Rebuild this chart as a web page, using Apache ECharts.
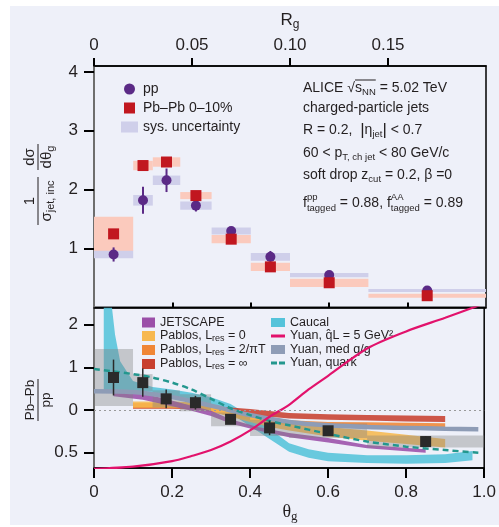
<!DOCTYPE html>
<html><head><meta charset="utf-8">
<script src="https://cdn.jsdelivr.net/npm/echarts@6/dist/echarts.min.js"></script>
<style>
html,body{margin:0;padding:0;background:#fff;}
#bg{position:absolute;left:10px;top:6px;width:489px;height:519px;background:#eef0f9;}
#chart{position:absolute;left:0;top:0;width:499px;height:527px;}
</style></head><body>
<div id="bg"></div><div id="chart"></div>
<script>
// ---------- data ----------
const binLo = [0, 0.1, 0.15, 0.22, 0.3, 0.4, 0.5, 0.7];
const binHi = [0.1, 0.15, 0.22, 0.3, 0.4, 0.5, 0.7, 1.0];
const binCenter = [0.05, 0.125, 0.185, 0.26, 0.35, 0.45, 0.6, 0.85];

const ppValues = [0.90, 1.82, 2.16, 1.73, 1.30, 0.86, 0.55, 0.29];
const ppStat = [0.12, 0.23, 0.20, 0.10, 0.05, 0.10, 0.03, 0.02];
const ppSys = [0.065, 0.09, 0.08, 0.07, 0.06, 0.065, 0.035, 0.025];
const pbpbValues = [1.25, 2.41, 2.47, 1.90, 1.16, 0.69, 0.42, 0.20];
const pbpbSys = [0.29, 0.08, 0.08, 0.06, 0.07, 0.07, 0.07, 0.035];

const ratioValues = [1.38, 1.32, 1.13, 1.085, 0.89, 0.79, 0.756, 0.63];
const ratioStat = [0.21, 0.165, 0.11, 0.08, 0.04, 0.085, 0.05, 0.065];
const ratioSys = [0.335, 0.10, 0.10, 0.10, 0.08, 0.095, 0.085, 0.07];

const caucalTheta = [0.025, 0.046, 0.054, 0.067, 0.1, 0.15, 0.2, 0.25, 0.3, 0.35, 0.4, 0.45, 0.5, 0.55, 0.6, 0.7, 0.8, 0.9, 0.97];
const caucalLow = [1.22, 1.22, 1.22, 1.21, 1.19, 1.17, 1.15, 1.11, 1.05, 0.96, 0.81, 0.66, 0.51, 0.44, 0.40, 0.38, 0.37, 0.38, 0.41];
const caucalHigh = [2.2, 2.2, 1.88, 1.57, 1.34, 1.27, 1.24, 1.2, 1.15, 1.07, 0.93, 0.78, 0.61, 0.54, 0.50, 0.47, 0.47, 0.48, 0.52];

const jetscapeTheta = [0.05, 0.125, 0.175, 0.25, 0.3, 0.35, 0.42, 0.5, 0.6, 0.7, 0.85];
const jetscapeLow = [1.16, 1.12, 1.07, 0.99, 0.93, 0.84, 0.76, 0.68, 0.62, 0.55, 0.50];
const jetscapeHigh = [1.24, 1.19, 1.14, 1.05, 0.99, 0.89, 0.80, 0.73, 0.67, 0.59, 0.54];

const pablos0Theta = [0.1, 0.2, 0.25, 0.3, 0.35, 0.4, 0.45, 0.5, 0.6, 0.7, 0.8, 0.9];
const pablos0Low = [1.03, 1.03, 1.02, 0.98, 0.92, 0.86, 0.80, 0.76, 0.69, 0.64, 0.60, 0.56];
const pablos0High = [1.10, 1.10, 1.09, 1.05, 0.99, 0.94, 0.90, 0.86, 0.80, 0.76, 0.71, 0.66];

const pablos2Theta = [0.1, 0.2, 0.25, 0.3, 0.35, 0.4, 0.45, 0.5, 0.6, 0.7, 0.8, 0.9];
const pablos2Low = [1.02, 1.02, 1.01, 0.98, 0.93, 0.88, 0.84, 0.82, 0.80, 0.795, 0.79, 0.79];
const pablos2High = [1.08, 1.08, 1.07, 1.05, 1.00, 0.95, 0.90, 0.88, 0.86, 0.855, 0.85, 0.845];

const pablosInfTheta = [0.1, 0.2, 0.3, 0.35, 0.4, 0.5, 0.6, 0.7, 0.8, 0.9];
const pablosInfLow = [1.015, 1.015, 1.0, 0.97, 0.94, 0.90, 0.885, 0.875, 0.865, 0.86];
const pablosInfHigh = [1.07, 1.07, 1.05, 1.03, 1.01, 0.965, 0.95, 0.94, 0.935, 0.93];

const medTheta = [0, 0.1, 0.2, 0.3, 0.4, 0.5, 0.6, 0.7, 0.8, 0.9, 0.985];
const medValues = [1.22, 1.21, 1.15, 1.05, 0.94, 0.86, 0.82, 0.80, 0.79, 0.78, 0.775];

const quarkTheta = [0, 0.1, 0.15, 0.2, 0.25, 0.3, 0.35, 0.4, 0.45, 0.5, 0.6, 0.7, 0.8, 0.9, 0.985];
const quarkValues = [1.48, 1.42, 1.38, 1.32, 1.24, 1.13, 1.02, 0.94, 0.87, 0.82, 0.72, 0.63, 0.57, 0.53, 0.50];

const qhatTheta = [0, 0.1, 0.2, 0.25, 0.3, 0.35, 0.4, 0.45, 0.5, 0.55, 0.6, 0.7, 0.8, 0.9, 0.99];
const qhatValues = [0.31, 0.335, 0.40, 0.46, 0.53, 0.63, 0.76, 0.92, 1.06, 1.24, 1.40, 1.72, 1.92, 2.08, 2.23];

const topYTicks = [1, 2, 3, 4];
const rgTickValues = [0, 0.05, 0.10, 0.15];
const rgTickLabels = ['0', '0.05', '0.10', '0.15'];
const thetaTickValues = [0, 0.2, 0.4, 0.6, 0.8, 1.0];
const thetaTickLabels = ['0', '0.2', '0.4', '0.6', '0.8', '1.0'];
const thetaInnerTicks = [0.2, 0.4, 0.6, 0.8];
const ratioTickValues = [0.5, 1, 1.5, 2];
const ratioTickLabels = ['0.5', '0', '1', '2'];

// ---------- helpers ----------
const FONT = '"Liberation Sans", Arial, sans-serif';
const SERIF = '"Liberation Serif", "DejaVu Serif", serif';
const INK = '#231f20';
const mctx = document.createElement('canvas').getContext('2d');
function tw(t, size, fam) { mctx.font = size + 'px ' + (fam || FONT); return mctx.measureText(t).width; }
function lookup(vals, labels, v) { for (let i = 0; i < vals.length; i++) if (Math.abs(vals[i] - v) < 1e-9) return labels[i]; return ''; }
function txt(x, y, t, size, fam) {
  return {type: 'text', x: x, y: y, silent: true, style: {text: t, fontSize: size, fontFamily: fam || FONT, fill: INK, align: 'left', verticalAlign: 'middle'}};
}
function partWidth(p) {
  if (p.sup !== undefined) return Math.max(tw(p.sup, p.size), tw(p.sub, p.size));
  return tw(p.t, p.size, p.fam);
}
function compose(parts, x0, y0, align) {
  const total = parts.reduce((s, p) => s + partWidth(p), 0);
  let cx = align === 'center' ? x0 - total / 2 : x0;
  const els = [];
  parts.forEach(p => {
    const w = partWidth(p);
    if (p.sup !== undefined) {
      els.push(txt(cx, y0 - 6, p.sup, p.size));
      els.push(txt(cx, y0 + 5, p.sub, p.size));
    } else {
      els.push(txt(cx, y0 + (p.dy || 0), p.t, p.size, p.fam));
      if (p.over) els.push({type: 'line', silent: true, shape: {x1: cx, y1: y0 - 8, x2: cx + w, y2: y0 - 8}, style: {stroke: INK, lineWidth: 1}});
    }
    cx += w;
  });
  return els;
}
const S = 14, SB = 9.5;
let graphics = [];
const ax = 303;
graphics = graphics.concat(compose([{t: 'ALICE ', size: S}, {t: '√', size: S}, {t: 's', size: S, over: true}, {t: 'NN', size: SB, dy: 4, over: true}, {t: ' = 5.02 TeV', size: S}], ax, 88));
graphics = graphics.concat(compose([{t: 'charged-particle jets', size: S}], ax, 108));
graphics = graphics.concat(compose([{t: 'R = 0.2,  ', size: S}, {t: '|', size: 17}, {t: 'η', size: S}, {t: 'jet', size: SB, dy: 4}, {t: '|', size: 17}, {t: ' < 0.7', size: S}], ax, 130));
graphics = graphics.concat(compose([{t: '60 < p', size: S}, {t: 'T, ch jet', size: SB, dy: 4}, {t: ' < 80 GeV/c', size: S}], ax, 153));
graphics = graphics.concat(compose([{t: 'soft drop z', size: S}, {t: 'cut', size: SB, dy: 4}, {t: ' = 0.2, β =0', size: S}], ax, 175));
graphics = graphics.concat(compose([{t: 'f', size: S}, {sup: 'pp', sub: 'tagged', size: SB}, {t: ' = 0.88, f', size: S}, {sup: 'AA', sub: 'tagged', size: SB}, {t: ' = 0.89', size: S}], ax, 203));
// axis titles
graphics = graphics.concat(compose([{t: 'R', size: 17}, {t: 'g', size: 12, dy: 5}], 290, 20, 'center'));
graphics = graphics.concat(compose([{t: 'θ', size: 18, fam: SERIF}, {t: 'g', size: 13, dy: 5, fam: SERIF}], 290, 512, 'center'));
const topTitle = [].concat(
  compose([{t: '1', size: 15}], -16, -8, 'center'),
  [{type: 'line', silent: true, shape: {x1: -40, y1: 0, x2: 8, y2: 0}, style: {stroke: INK, lineWidth: 1}}],
  compose([{t: 'σ', size: 15}, {t: 'jet, inc', size: 11, dy: 4}], -16, 9, 'center'),
  compose([{t: 'dσ', size: 15}], 28, -8, 'center'),
  [{type: 'line', silent: true, shape: {x1: 15, y1: 0, x2: 41, y2: 0}, style: {stroke: INK, lineWidth: 1}}],
  compose([{t: 'dθ', size: 15}, {t: 'g', size: 11, dy: 4}], 28, 9, 'center')
);
graphics.push({type: 'group', x: 38, y: 185, rotation: Math.PI / 2, children: topTitle});
const botTitle = [].concat(
  compose([{t: 'Pb–Pb', size: 13.5}], 0, -8, 'center'),
  [{type: 'line', silent: true, shape: {x1: -21, y1: 0, x2: 21, y2: 0}, style: {stroke: INK, lineWidth: 1}}],
  compose([{t: 'pp', size: 13.5}], 0, 8, 'center')
);
graphics.push({type: 'group', x: 38, y: 400, rotation: Math.PI / 2, children: botTitle});

function boxRender(params, api) {
  const p0 = api.coord([api.value(0), api.value(3)]);
  const p1 = api.coord([api.value(1), api.value(2)]);
  return {type: 'rect', shape: {x: p0[0], y: p0[1], width: p1[0] - p0[0], height: p1[1] - p0[1]}, style: api.style()};
}
function barRender(color, w) {
  return function (params, api) {
    const p0 = api.coord([api.value(0), api.value(1)]);
    const p1 = api.coord([api.value(0), api.value(2)]);
    return {type: 'line', shape: {x1: p0[0], y1: p0[1], x2: p1[0], y2: p1[1]}, style: {stroke: color, lineWidth: w}};
  };
}
function bandSeries(name, xs, lo, hi, color, z) {
  return {
    type: 'custom', name: name, xAxisIndex: 2, yAxisIndex: 1, z: z, clip: true, silent: true,
    itemStyle: {color: color},
    data: xs.map((x, i) => [x, lo[i], hi[i]]),
    encode: {x: 0, y: [1, 2]},
    renderItem: function (params, api) {
      if (params.dataIndex !== 0) return null;
      const pts = [];
      xs.forEach((x, i) => pts.push(api.coord([x, hi[i]])));
      for (let i = xs.length - 1; i >= 0; i--) pts.push(api.coord([xs[i], lo[i]]));
      return {type: 'polygon', shape: {points: pts}, style: {fill: color, opacity: 0.88}};
    }
  };
}
const tickStyle = {color: '#000', width: 2};
const labelStyle = {fontSize: 17, color: INK, fontFamily: FONT};

const chart = echarts.init(document.getElementById('chart'), null, {renderer: 'canvas'});
const richN = {n: {fontSize: 12.5, fontFamily: FONT, color: INK, lineHeight: 14}, s: {fontSize: 9, fontFamily: FONT, color: INK, lineHeight: 6, verticalAlign: 'bottom'}};
const legendRich = {
  'JETSCAPE': '{n|JETSCAPE}',
  'Pablos, Lres = 0': '{n|Pablos, L}{s|res}{n| = 0}',
  'Pablos, Lres = 2/πT': '{n|Pablos, L}{s|res}{n| = 2/πT}',
  'Pablos, Lres = ∞': '{n|Pablos, L}{s|res}{n| = ∞}',
  'Caucal': '{n|Caucal}',
  'Yuan, q̂L = 5 GeV²': '{n|Yuan, q̂L = 5 GeV²}',
  'Yuan, med q/g': '{n|Yuan, med q/g}',
  'Yuan, quark': '{n|Yuan, quark}'
};

chart.setOption({
  animation: false,
  backgroundColor: 'transparent',
  grid: [
    {left: 94, right: 13, top: 66, height: 241.5, show: true, borderColor: '#000', borderWidth: 1.5, backgroundColor: 'transparent'},
    {left: 94, right: 13, top: 307.5, height: 160.5, show: true, borderColor: '#000', borderWidth: 1.5, backgroundColor: 'transparent'}
  ],
  xAxis: [
    {gridIndex: 0, type: 'value', min: 0, max: 1, position: 'bottom',
      axisLine: {show: true, lineStyle: {color: '#000', width: 1.5}},
      axisTick: {show: true, inside: true, length: 5, lineStyle: tickStyle, customValues: thetaInnerTicks},
      axisLabel: {show: false}, splitLine: {show: false}},
    {gridIndex: 0, type: 'value', min: 0, max: 0.2, position: 'top',
      axisLine: {show: true, lineStyle: {color: '#000', width: 1.5}},
      axisTick: {show: true, length: 8, lineStyle: tickStyle, customValues: rgTickValues},
      axisLabel: Object.assign({customValues: rgTickValues, margin: 12, formatter: v => lookup(rgTickValues, rgTickLabels, v)}, labelStyle),
      splitLine: {show: false}},
    {gridIndex: 1, type: 'value', min: 0, max: 1, position: 'bottom',
      axisLine: {show: true, lineStyle: {color: '#000', width: 1.5}},
      axisTick: {show: true, length: 10, lineStyle: tickStyle, customValues: thetaTickValues},
      axisLabel: Object.assign({customValues: thetaTickValues, margin: 16, formatter: v => lookup(thetaTickValues, thetaTickLabels, v)}, labelStyle),
      splitLine: {show: false}}
  ],
  yAxis: [
    {gridIndex: 0, type: 'value', min: 0, max: 4.1,
      axisLine: {show: true, lineStyle: {color: '#6e6e6e', width: 2}},
      axisTick: {show: true, length: 10, lineStyle: tickStyle, customValues: topYTicks},
      axisLabel: Object.assign({customValues: topYTicks, margin: 16}, labelStyle),
      splitLine: {show: false}},
    {gridIndex: 1, type: 'value', min: 0.32, max: 2.2,
      axisLine: {show: true, lineStyle: {color: '#6e6e6e', width: 2}},
      axisTick: {show: true, length: 10, lineStyle: tickStyle, customValues: ratioTickValues},
      axisLabel: Object.assign({customValues: ratioTickValues, margin: 16, formatter: v => lookup(ratioTickValues, ratioTickLabels, v)}, labelStyle),
      splitLine: {show: false}}
  ],
  legend: [
    {orient: 'vertical', left: 116, top: 77, itemWidth: 17, itemHeight: 11, itemGap: 5, selectedMode: false,
      textStyle: {fontSize: 14, fontFamily: FONT, color: INK},
      data: [{name: 'pp', icon: 'circle'}, {name: 'Pb–Pb 0–10%', icon: 'path://M0 0H10V10H0Z'}, {name: 'sys. uncertainty', icon: 'rect'}]},
    {orient: 'vertical', left: 137, top: 311, itemWidth: 13, itemHeight: 10, itemGap: 0.5, selectedMode: false,
      formatter: n => legendRich[n], textStyle: {rich: richN},
      data: [{name: 'JETSCAPE', icon: 'rect'}, {name: 'Pablos, Lres = 0', icon: 'rect'}, {name: 'Pablos, Lres = 2/πT', icon: 'rect'}, {name: 'Pablos, Lres = ∞', icon: 'rect'}]},
    {orient: 'vertical', left: 266, top: 311, itemWidth: 14, itemHeight: 9, itemGap: 0.5, selectedMode: false,
      formatter: n => legendRich[n], textStyle: {rich: richN},
      data: [{name: 'Caucal', icon: 'rect'}, {name: 'Yuan, q̂L = 5 GeV²', icon: 'path://M0 0H14V3H0Z'}, {name: 'Yuan, med q/g', icon: 'rect'}, {name: 'Yuan, quark', icon: 'path://M0 0H6V3H0Z M8 0H14V3H8Z'}]}
  ],
  graphic: {elements: graphics},
  series: [
    // ---- top panel ----
    {type: 'custom', name: 'Pb–Pb sys', xAxisIndex: 0, yAxisIndex: 0, z: 1, silent: true,
      itemStyle: {color: '#fbcabd'}, renderItem: boxRender, encode: {x: [0, 1], y: [2, 3]},
      data: pbpbValues.map((v, i) => [binLo[i], binHi[i], v - pbpbSys[i], v + pbpbSys[i]])},
    {type: 'custom', name: 'sys. uncertainty', xAxisIndex: 0, yAxisIndex: 0, z: 2, silent: true,
      itemStyle: {color: '#cfcfea'}, renderItem: boxRender, encode: {x: [0, 1], y: [2, 3]},
      data: ppValues.map((v, i) => [binLo[i], binHi[i], v - ppSys[i], v + ppSys[i]])},
    {type: 'custom', name: 'pp stat', xAxisIndex: 0, yAxisIndex: 0, z: 3, silent: true,
      renderItem: barRender('#5b2a86', 2), encode: {x: 0, y: [1, 2]},
      data: ppValues.map((v, i) => [binCenter[i], v - ppStat[i], v + ppStat[i]])},
    {type: 'scatter', name: 'pp', xAxisIndex: 0, yAxisIndex: 0, z: 4, symbol: 'circle', symbolSize: 10,
      itemStyle: {color: '#5b2a86', opacity: 1}, data: ppValues.map((v, i) => [binCenter[i], v])},
    {type: 'scatter', name: 'Pb–Pb 0–10%', xAxisIndex: 0, yAxisIndex: 0, z: 5, symbol: 'rect', symbolSize: 11,
      itemStyle: {color: '#c1171f', opacity: 1}, data: pbpbValues.map((v, i) => [binCenter[i], v])},
    // ---- bottom panel: model bands ----
    bandSeries('Caucal', caucalTheta, caucalLow, caucalHigh, '#55c3da', 2),
    bandSeries('Pablos, Lres = ∞', pablosInfTheta, pablosInfLow, pablosInfHigh, '#c8402f', 2),
    bandSeries('Pablos, Lres = 2/πT', pablos2Theta, pablos2Low, pablos2High, '#f08636', 2),
    bandSeries('Pablos, Lres = 0', pablos0Theta, pablos0Low, pablos0High, '#f7b84f', 2),
    bandSeries('JETSCAPE', jetscapeTheta, jetscapeLow, jetscapeHigh, '#9b4fa8', 2),
    {type: 'custom', name: 'ratio sys', xAxisIndex: 2, yAxisIndex: 1, z: 3, silent: true,
      itemStyle: {color: 'rgba(128,128,128,0.38)'}, renderItem: boxRender, encode: {x: [0, 1], y: [2, 3]},
      data: ratioValues.map((v, i) => [binLo[i], binHi[i], v - ratioSys[i], v + ratioSys[i]])},
    {type: 'line', name: 'Yuan, med q/g', xAxisIndex: 2, yAxisIndex: 1, z: 4, symbol: 'none', smooth: 0.3, silent: true,
      itemStyle: {color: '#8e9cb6'}, lineStyle: {color: '#8e9cb6', width: 4.5},
      data: medTheta.map((t, i) => [t, medValues[i]])},
    {type: 'line', name: 'Yuan, quark', xAxisIndex: 2, yAxisIndex: 1, z: 4, symbol: 'none', smooth: 0.3, silent: true,
      itemStyle: {color: '#23978e'}, lineStyle: {color: '#23978e', width: 2.5, type: [6, 4]},
      data: quarkTheta.map((t, i) => [t, quarkValues[i]])},
    {type: 'line', name: 'Yuan, q̂L = 5 GeV²', xAxisIndex: 2, yAxisIndex: 1, z: 4, symbol: 'none', smooth: 0.3, silent: true, clip: true,
      itemStyle: {color: '#e2126c'}, lineStyle: {color: '#e2126c', width: 2.2},
      data: qhatTheta.map((t, i) => [t, qhatValues[i]])},
    {type: 'custom', name: 'ratio stat', xAxisIndex: 2, yAxisIndex: 1, z: 5, silent: true,
      renderItem: barRender('#2a2a2a', 1.5), encode: {x: 0, y: [1, 2]},
      data: ratioValues.map((v, i) => [binCenter[i], v - ratioStat[i], v + ratioStat[i]])},
    {type: 'scatter', name: 'Pb–Pb/pp', xAxisIndex: 2, yAxisIndex: 1, z: 6, symbol: 'rect', symbolSize: 11,
      itemStyle: {color: '#2a2a2a', opacity: 1}, data: ratioValues.map((v, i) => [binCenter[i], v]),
      markLine: {silent: true, symbol: 'none', label: {show: false}, lineStyle: {color: '#9a9a9a', type: [2, 3], width: 1.2},
        data: [{yAxis: 1}]}}
  ]
});
</script>
</body></html>
